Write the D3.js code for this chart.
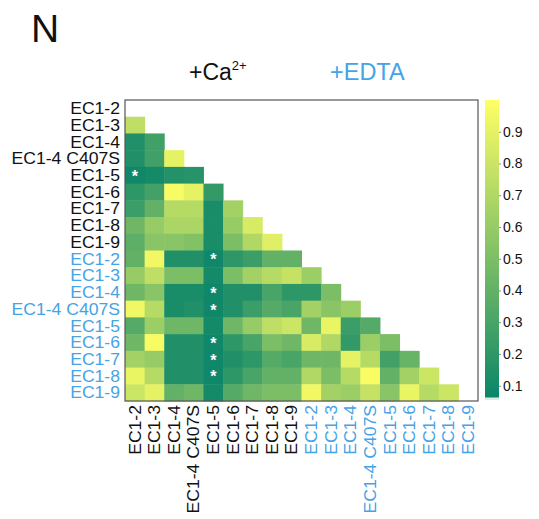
<!DOCTYPE html>
<html><head><meta charset="utf-8">
<script src="https://cdn.jsdelivr.net/npm/d3@7"></script>
<style>
html,body{margin:0;padding:0;background:#fff;}
text{font-family:"Liberation Sans",Arial,sans-serif;}
</style></head>
<body><svg id="c" width="539" height="519"></svg>
<script>
// ---- data ----
const labels = ["EC1-2","EC1-3","EC1-4","EC1-4 C407S","EC1-5","EC1-6","EC1-7","EC1-8","EC1-9",
                "EC1-2","EC1-3","EC1-4","EC1-4 C407S","EC1-5","EC1-6","EC1-7","EC1-8","EC1-9"];
const groups = ["Ca","Ca","Ca","Ca","Ca","Ca","Ca","Ca","Ca",
                "EDTA","EDTA","EDTA","EDTA","EDTA","EDTA","EDTA","EDTA","EDTA"];
// lower-triangle values, row i has columns 0..i-1
const values = [
  [],
  [0.75],
  [0.15,0.27],
  [0.15,0.27,0.90],
  [0.08,0.10,0.16,0.17],
  [0.20,0.28,0.97,0.90,0.22],
  [0.25,0.40,0.72,0.72,0.12,0.65],
  [0.45,0.60,0.68,0.68,0.12,0.60,0.85],
  [0.38,0.55,0.55,0.52,0.12,0.50,0.70,0.88],
  [0.40,0.95,0.15,0.15,0.08,0.20,0.25,0.40,0.40],
  [0.60,0.75,0.50,0.50,0.10,0.50,0.65,0.72,0.78,0.62],
  [0.45,0.55,0.12,0.12,0.08,0.15,0.15,0.30,0.20,0.20,0.50],
  [0.95,0.72,0.12,0.15,0.08,0.15,0.25,0.35,0.30,0.65,0.55,0.62],
  [0.35,0.62,0.45,0.45,0.10,0.45,0.60,0.75,0.80,0.45,0.92,0.25,0.35],
  [0.45,0.97,0.15,0.15,0.08,0.20,0.30,0.50,0.45,0.85,0.70,0.22,0.62,0.50],
  [0.65,0.60,0.15,0.15,0.08,0.15,0.20,0.35,0.30,0.45,0.45,0.90,0.72,0.28,0.42],
  [0.92,0.72,0.15,0.15,0.08,0.20,0.30,0.40,0.40,0.70,0.50,0.72,0.98,0.40,0.65,0.80],
  [0.80,0.90,0.40,0.45,0.10,0.35,0.45,0.50,0.50,0.95,0.65,0.62,0.78,0.55,0.92,0.72,0.80]
];
const stars = [[4,0],[9,4],[11,4],[12,4],[14,4],[15,4],[16,4]];
const colorTicks = [0.1,0.2,0.3,0.4,0.5,0.6,0.7,0.8,0.9];
const colorDomain = [0.055, 1.0];

// ---- drawing ----
const svg = d3.select("#c");
const groupColor = {Ca:"#111111", EDTA:"#45a3e6"};
const font = "\"Liberation Sans\",Arial,sans-serif";

const x = d3.scaleBand().domain(d3.range(labels.length)).range([125,478]);
const y = d3.scaleBand().domain(d3.range(labels.length)).range([100,401]);
const color = d3.scaleSequential(d3.interpolateRgb("rgb(8,132,104)","rgb(255,255,100)")).domain(colorDomain);

const cells = [];
values.forEach((row,i)=>row.forEach((v,j)=>cells.push({i,j,v})));

svg.append("g").selectAll("rect").data(cells).join("rect")
  .attr("x",d=>x(d.j)).attr("y",d=>y(d.i))
  .attr("width",x.bandwidth()+0.5).attr("height",y.bandwidth()+0.5)
  .attr("fill",d=>color(d.v));

svg.append("rect").attr("x",125).attr("y",100).attr("width",353).attr("height",301)
  .attr("fill","none").attr("stroke","#555").attr("stroke-width",1.2);

svg.append("g").selectAll("text").data(stars).join("text")
  .attr("x",d=>x(d[1])+x.bandwidth()/2).attr("y",d=>y(d[0])+y.bandwidth()/2+6.5)
  .attr("text-anchor","middle").attr("fill","#fff").attr("font-size",16).attr("font-weight","bold")
  .text("*");

// row labels
svg.append("g").selectAll("text").data(labels).join("text")
  .attr("transform",(d,i)=>`translate(120,${y(i)+y.bandwidth()/2}) scale(1.1,1)`)
  .attr("text-anchor","end").attr("dy","0.36em").attr("font-size",16)
  .attr("fill",(d,i)=>groupColor[groups[i]]).text(d=>d);

// column labels
svg.append("g").selectAll("text").data(labels).join("text")
  .attr("transform",(d,i)=>`translate(${x(i)+x.bandwidth()/2},405) rotate(-90) scale(1.1,1)`)
  .attr("text-anchor","end").attr("dy","0.36em").attr("font-size",16)
  .attr("fill",(d,i)=>groupColor[groups[i]]).text(d=>d);

// titles
svg.append("text").attr("x",31).attr("y",42).attr("font-size",39).attr("fill","#111").text("N");
const ca = svg.append("text").attr("x",189).attr("y",80).attr("font-size",23).attr("fill","#111");
ca.append("tspan").text("+Ca");
ca.append("tspan").attr("font-size",13).attr("dy",-10).text("2+");
svg.append("text").attr("x",330).attr("y",80).attr("font-size",23.5).attr("fill","#45a3e6").text("+EDTA");

// colorbar
const cb = {x:485, w:14, top:100, bottom:400};
const cy = d3.scaleLinear().domain(colorDomain).range([cb.bottom, cb.top]);
const defs = svg.append("defs");
const grad = defs.append("linearGradient").attr("id","g").attr("x1",0).attr("y1",1).attr("x2",0).attr("y2",0);
d3.range(0,1.0001,0.1).forEach(t=>grad.append("stop").attr("offset",t)
  .attr("stop-color",color(colorDomain[0]+t*(colorDomain[1]-colorDomain[0]))));
svg.append("rect").attr("x",cb.x).attr("y",cb.top).attr("width",cb.w).attr("height",cb.bottom-cb.top).attr("fill","url(#g)");
svg.append("rect").attr("x",cb.x).attr("y",cb.bottom-2.5).attr("width",cb.w).attr("height",2.5).attr("fill","#d8ebe4");
const ax = svg.append("g").attr("transform",`translate(${cb.x+cb.w},0)`)
  .call(d3.axisRight(cy).tickValues(colorTicks).tickSize(2).tickPadding(2).tickFormat(d3.format(".1f")));
ax.select(".domain").remove();
ax.selectAll("line").attr("stroke","#888");
ax.selectAll("text").attr("font-size",14).attr("font-family",font).attr("fill","#111");
</script></body></html>
